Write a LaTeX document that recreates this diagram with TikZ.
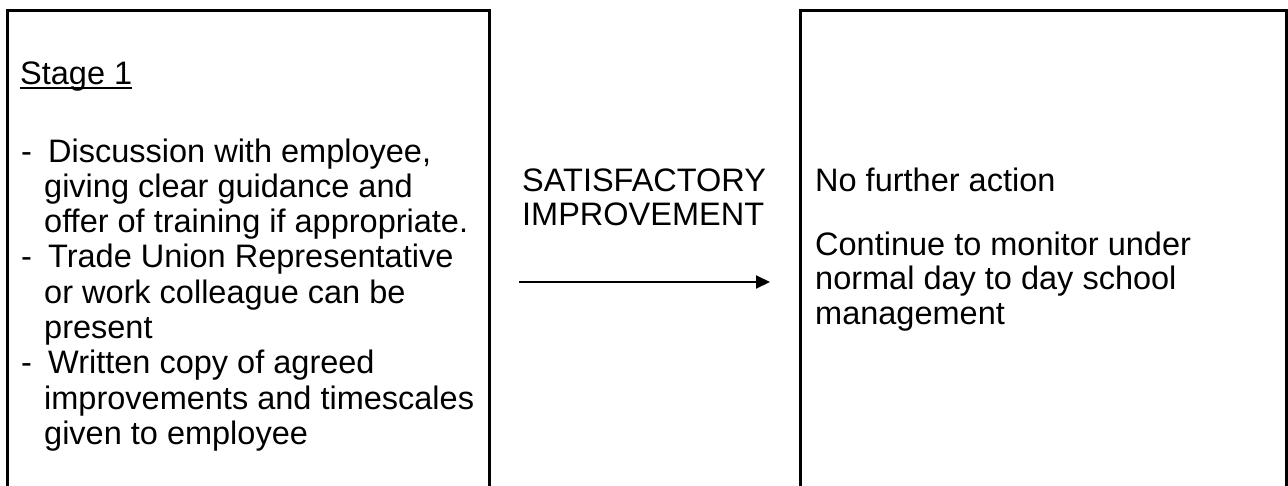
\documentclass[tikz,border=0pt]{standalone}
\usepackage{fontspec}
\setmainfont{Liberation Sans}
\usetikzlibrary{arrows.meta}
\begin{document}
\begin{tikzpicture}[x=1pt,y=-1pt,
  txt/.style={anchor=base west,inner sep=0pt,font=\fontsize{32.5}{35.5}\selectfont},
  frame/.style={line width=3pt},
  link/.style={line width=2pt,-{Triangle[length=14pt,width=13pt]}}]
\useasboundingbox (0,0) rectangle (1288,485);
% boxes (open at the bottom: they run off the page)
\draw[frame] (7.5,495) |- (489,10) -- (489,495);
\draw[frame] (800,495) |- (1286.5,10) -- (1286.5,495);
% left box text
\node[txt] (stage) at (20,84) {Stage 1};
\draw[line width=2pt] ([yshift=-4pt]stage.base west) -- ([yshift=-4pt]stage.base east);
\node[txt] (d1) at (21,162) {-};
\node[txt] (a1) at (48,162) {Discussion with employee,};
\node[txt] (a2) at (44,197.3) {giving clear guidance and};
\node[txt] (a3) at (44,232.6) {offer of training if appropriate.};
\node[txt] (d2) at (21,267.9) {-};
\node[txt] (b1) at (48,267.9) {Trade Union Representative};
\node[txt] (b2) at (44,303.2) {or work colleague can be};
\node[txt] (b3) at (44,338.5) {present};
\node[txt] (d3) at (21,373.8) {-};
\node[txt] (c1) at (48,373.8) {Written copy of agreed};
\node[txt] (c2) at (44,409.1) {improvements and timescales};
\node[txt] (c3) at (44,444.4) {given to employee};
% middle label
\node[txt] (s1) at (522,191) {SATISFACTORY};
\node[txt] (s2) at (522,225) {IMPROVEMENT};
% arrow
\coordinate (p) at (519,282);
\coordinate (q) at (770,282);
\draw[link] (p) -- (q);
% right box text
\node[txt] (r1) at (815,191) {No further action};
\node[txt] (r2) at (815,255) {Continue to monitor under};
\node[txt] (r3) at (815,289.5) {normal day to day school};
\node[txt] (r4) at (815,324) {management};
\end{tikzpicture}
\end{document}
